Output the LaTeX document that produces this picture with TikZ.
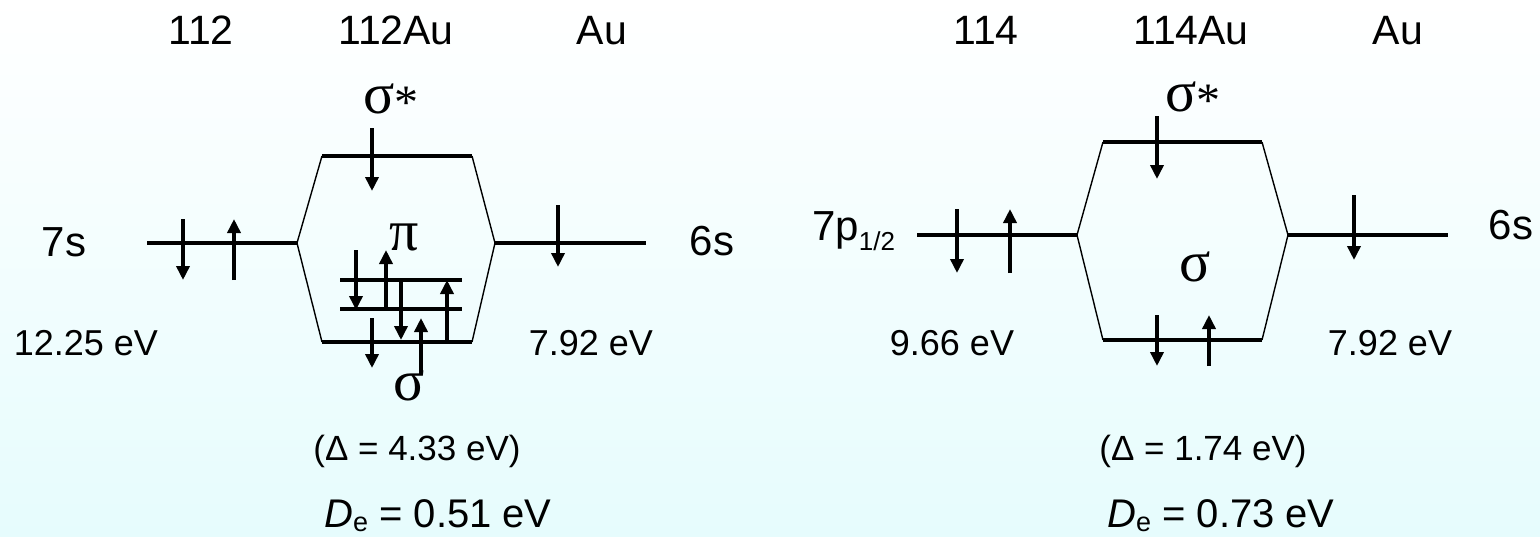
\documentclass[tikz,border=0pt]{standalone}
\usepackage{fontspec}
\setmainfont{Liberation Sans}
\newfontfamily\grk{Liberation Serif}
\usetikzlibrary{arrows.meta}
\definecolor{bgbot}{RGB}{230,252,253}
\newcommand{\sigstar}{σ\kern0pt\raisebox{-5pt}{\fontsize{48}{48}\selectfont *}}
\begin{document}
\begin{tikzpicture}[x=1pt,y=-1pt,
  level/.style={line width=4pt},
  side/.style={line width=1.4pt},
  spin/.style={line width=3.5pt,-{Triangle[width=13pt,length=14pt]}},
  top/.style={font=\fontsize{41}{43}\selectfont, inner sep=0pt, anchor=base},
  orb/.style={font=\fontsize{42}{44}\selectfont, inner sep=0pt, anchor=base},
  lbl/.style={font=\fontsize{36}{38}\selectfont, inner sep=0pt, anchor=base},
  dlt/.style={font=\fontsize{35}{38}\selectfont, inner sep=0pt, anchor=base},
  dee/.style={font=\fontsize{40}{42}\selectfont, inner sep=0pt, anchor=base},
  gr/.style={font=\grk\fontsize{58}{60}\selectfont, inner sep=0pt}]
\useasboundingbox (0,0) rectangle (1540,536);
\shade[top color=white,bottom color=bgbot] (0,0) rectangle (1540,536);

% ---------------- left diagram (112Au) ----------------
\node[top] (t112) at (201,44) {112};
\node[top] (t112au) at (396,44) {112Au};
\node[top] (tau1) at (602,44) {Au};
\node[orb] (s7) at (64,256) {7s};
\node[orb] (s6a) at (712,255) {6s};
\node[lbl] (e1) at (86,355) {12.25 eV};
\node[lbl] (e2) at (591,355) {7.92 eV};
\node[gr, anchor=base west] (ssa) at (363,113) {\sigstar};
\node[gr] (pia) at (404,237) {π};
\node[gr] (sga) at (409,386) {σ};
\node[dlt] (da) at (417,460) {(Δ = 4.33 eV)};
\node[dee] (dea) at (438,527) {\itshape D\upshape\raisebox{-4pt}{\fontsize{27}{27}\selectfont e} = 0.51 eV};

\coordinate (a7L) at (147,243);  \coordinate (a7R) at (297,243);
\coordinate (aSsL) at (322,156); \coordinate (aSsR) at (472,156);
\coordinate (a6L) at (495,243);  \coordinate (a6R) at (646,243);
\coordinate (aSL) at (322,342);  \coordinate (aSR) at (472,342);
\coordinate (aP1L) at (340,280); \coordinate (aP1R) at (462,280);
\coordinate (aP2L) at (340,309); \coordinate (aP2R) at (462,309);

\draw[level] (a7L) -- (a7R);
\draw[level] (aSsL) -- (aSsR);
\draw[level] (a6L) -- (a6R);
\draw[level] (aSL) -- (aSR);
\draw[level] (aP1L) -- (aP1R);
\draw[level] (aP2L) -- (aP2R);
\draw[side] (a7R) -- (aSsL);
\draw[side] (aSsR) -- (a6L);
\draw[side] (a6L) -- (aSR);
\draw[side] (aSL) -- (a7R);

% spins
\coordinate (x1a) at (183,219); \coordinate (x1b) at (183,280);
\coordinate (x2a) at (234,280); \coordinate (x2b) at (234,219);
\coordinate (x3a) at (372,128); \coordinate (x3b) at (372,191);
\coordinate (x4a) at (558,205); \coordinate (x4b) at (558,267);
\coordinate (x5a) at (356,250); \coordinate (x5b) at (356,310);
\coordinate (x6a) at (386,310); \coordinate (x6b) at (386,250);
\coordinate (x7a) at (401,280); \coordinate (x7b) at (401,340);
\coordinate (x8a) at (447,340); \coordinate (x8b) at (447,280);
\coordinate (x9a) at (372,318); \coordinate (x9b) at (372,368);
\coordinate (x10a) at (421,374); \coordinate (x10b) at (421,318);
\draw[spin] (x1a) -- (x1b);
\draw[spin] (x2a) -- (x2b);
\draw[spin] (x3a) -- (x3b);
\draw[spin] (x4a) -- (x4b);
\draw[spin] (x5a) -- (x5b);
\draw[spin] (x6a) -- (x6b);
\draw[spin] (x7a) -- (x7b);
\draw[spin] (x8a) -- (x8b);
\draw[spin] (x9a) -- (x9b);
\draw[spin] (x10a) -- (x10b);

% ---------------- right diagram (114Au) ----------------
\node[top] (t114) at (986,44) {114};
\node[top] (t114au) at (1191,44) {114Au};
\node[top] (tau2) at (1398,44) {Au};
\node[orb, anchor=base west] (p7) at (812,240) {7p\raisebox{-10pt}{\fontsize{26}{26}\selectfont 1/2}};
\node[orb] (s6b) at (1511,239) {6s};
\node[lbl] (e3) at (952,355) {9.66 eV};
\node[lbl] (e4) at (1390,355) {7.92 eV};
\node[gr, anchor=base west] (ssb) at (1165,111) {\sigstar};
\node[gr] (sgb) at (1195,267) {σ};
\node[dlt] (db) at (1203,460) {(Δ = 1.74 eV)};
\node[dee] (deb) at (1221,527) {\itshape D\upshape\raisebox{-4pt}{\fontsize{27}{27}\selectfont e} = 0.73 eV};

\coordinate (b7L) at (917,235);   \coordinate (b7R) at (1077,235);
\coordinate (bSsL) at (1103,142); \coordinate (bSsR) at (1262,142);
\coordinate (b6L) at (1288,235);  \coordinate (b6R) at (1448,235);
\coordinate (bSL) at (1103,340);  \coordinate (bSR) at (1262,340);

\draw[level] (b7L) -- (b7R);
\draw[level] (bSsL) -- (bSsR);
\draw[level] (b6L) -- (b6R);
\draw[level] (bSL) -- (bSR);
\draw[side] (b7R) -- (bSsL);
\draw[side] (bSsR) -- (b6L);
\draw[side] (b6L) -- (bSR);
\draw[side] (bSL) -- (b7R);

\coordinate (y1a) at (957,209);  \coordinate (y1b) at (957,273);
\coordinate (y2a) at (1010,273); \coordinate (y2b) at (1010,209);
\coordinate (y3a) at (1157,116); \coordinate (y3b) at (1157,179);
\coordinate (y4a) at (1354,195); \coordinate (y4b) at (1354,260);
\coordinate (y5a) at (1157,315); \coordinate (y5b) at (1157,366);
\coordinate (y6a) at (1209,366); \coordinate (y6b) at (1209,315);
\draw[spin] (y1a) -- (y1b);
\draw[spin] (y2a) -- (y2b);
\draw[spin] (y3a) -- (y3b);
\draw[spin] (y4a) -- (y4b);
\draw[spin] (y5a) -- (y5b);
\draw[spin] (y6a) -- (y6b);
\end{tikzpicture}
\end{document}
